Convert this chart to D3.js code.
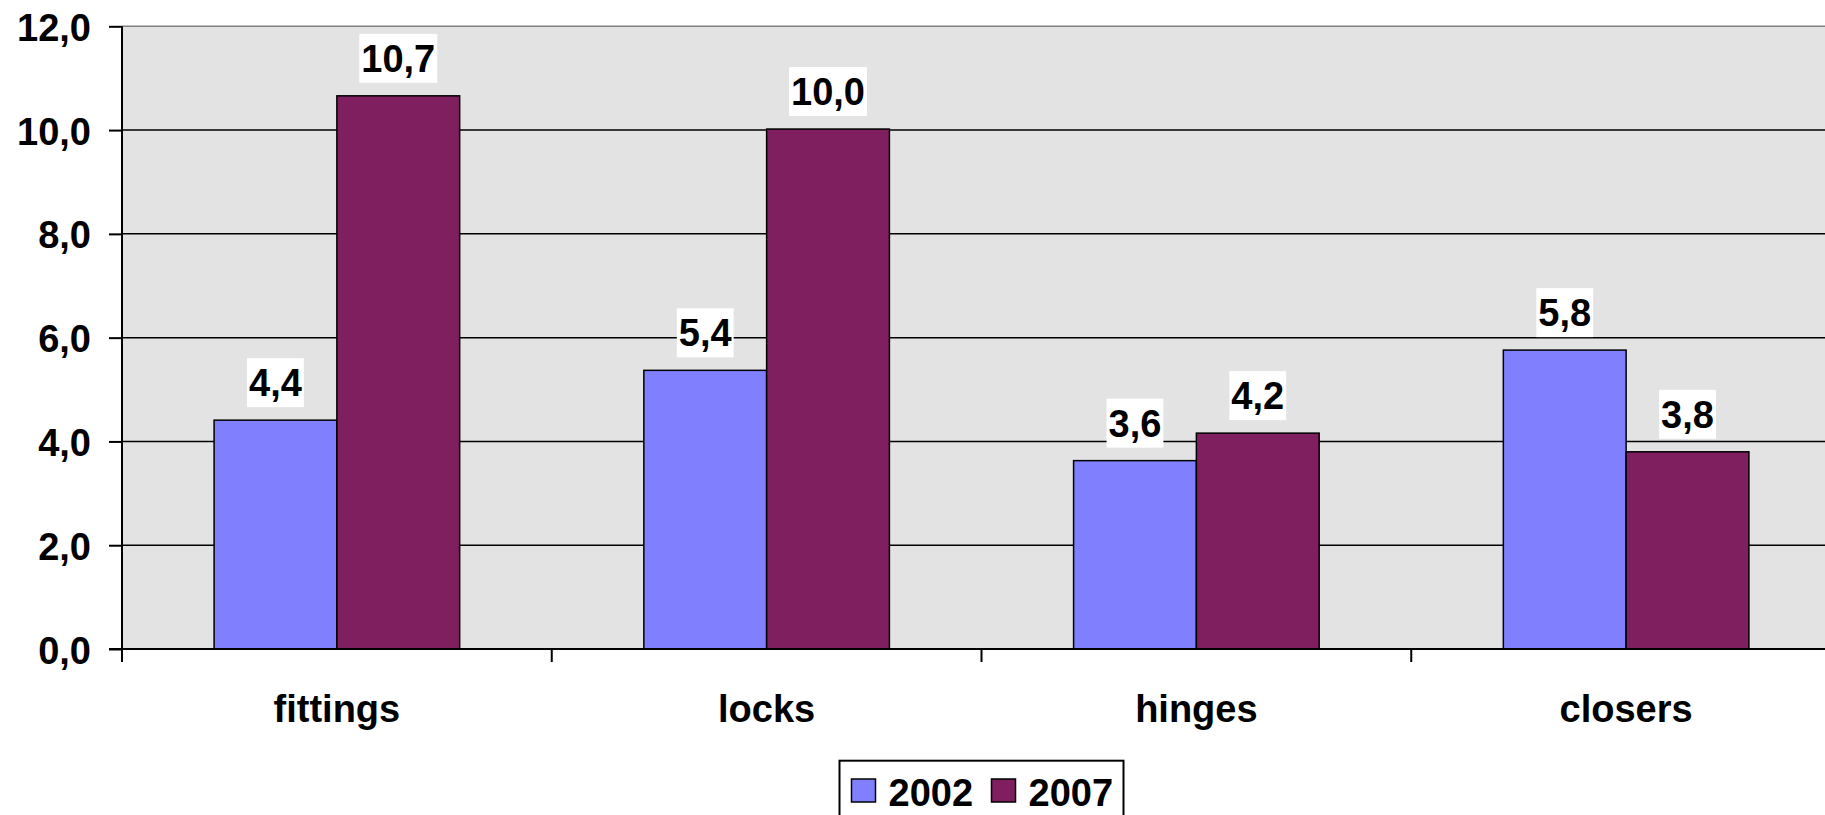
<!DOCTYPE html>
<html>
<head>
<meta charset="utf-8">
<script src="https://cdn.jsdelivr.net/npm/d3@7"></script>
<style>
  html, body { margin: 0; padding: 0; background: #ffffff; overflow: hidden; }
  svg { display: block; font-family: "Liberation Sans", Arial, sans-serif; font-weight: bold; }
</style>
</head>
<body>
<svg id="chart" width="1825" height="815"></svg>
<script>
const categories = ["fittings", "locks", "hinges", "closers"];
const seriesNames = ["2002", "2007"];
const values2002 = [4.41, 5.37, 3.63, 5.76];
const values2007 = [10.66, 10.02, 4.16, 3.80];
const yTickValues = [0, 2, 4, 6, 8, 10, 12];
const seriesColors = ["#8080FF", "#7F1F5F"];

const seriesValues = [values2002, values2007];
const fmt = v => v.toFixed(1).replace(".", ",");

const svg = d3.select("#chart");
const plotLeft = 122, plotRight = 1841, plotTop = 26.3, plotBottom = 649;
const FS = 38;

const x = d3.scaleBand().domain(categories).range([plotLeft, plotRight]).paddingInner(0).paddingOuter(0);
const catW = x.bandwidth();
const x1 = d3.scaleBand().domain(seriesNames).range([catW * 0.75 / 3.5, catW * 2.75 / 3.5]).padding(0);
const y = d3.scaleLinear().domain([0, 12]).range([plotBottom, plotTop]);

// plot area background
svg.append("rect")
  .attr("x", plotLeft).attr("y", plotTop)
  .attr("width", plotRight - plotLeft).attr("height", plotBottom - plotTop)
  .attr("fill", "#E3E3E3");

// gridlines
svg.append("g").selectAll("line")
  .data(yTickValues.filter(v => v > 0 && v < 12))
  .join("line")
  .attr("x1", plotLeft).attr("x2", plotRight)
  .attr("y1", d => y(d)).attr("y2", d => y(d))
  .attr("stroke", "#000").attr("stroke-width", 1.5);

// plot area top border
svg.append("line")
  .attr("x1", plotLeft).attr("x2", plotRight)
  .attr("y1", y(12)).attr("y2", y(12))
  .attr("stroke", "#808080").attr("stroke-width", 1.5);

// bars
const flat = [];
categories.forEach((c, i) => seriesNames.forEach((s, j) => flat.push({ c, s, j, v: seriesValues[j][i] })));

svg.append("g").selectAll("rect")
  .data(flat)
  .join("rect")
  .attr("x", d => x(d.c) + x1(d.s))
  .attr("y", d => y(d.v))
  .attr("width", x1.bandwidth())
  .attr("height", d => y(0) - y(d.v))
  .attr("fill", d => seriesColors[d.j])
  .attr("stroke", "#000").attr("stroke-width", 1.5);

// value labels
const labels = svg.append("g").selectAll("g")
  .data(flat)
  .join("g")
  .attr("transform", d => `translate(${x(d.c) + x1(d.s) + x1.bandwidth() / 2},${y(d.v) - 24})`);
labels.append("text")
  .attr("text-anchor", "middle")
  .attr("font-size", FS)
  .attr("fill", "#000")
  .text(d => fmt(d.v));
labels.each(function () {
  const g = d3.select(this);
  const bb = g.select("text").node().getBBox();
  g.insert("rect", "text")
    .attr("x", bb.x - 2).attr("width", bb.width + 4)
    .attr("y", -38).attr("height", 49)
    .attr("fill", "#fff");
});

// y axis
const yAxis = d3.axisLeft(y).tickValues(yTickValues).tickSize(13).tickPadding(18)
  .tickFormat(d => fmt(d));
const gy = svg.append("g").attr("transform", `translate(${plotLeft},0)`).call(yAxis);
gy.select(".domain").attr("stroke", "#000").attr("stroke-width", 2).attr("d", `M0,${plotTop}V${plotBottom}`);
gy.selectAll(".tick line").attr("stroke", "#000").attr("stroke-width", 2);
gy.selectAll(".tick text")
  .attr("font-size", FS).attr("font-family", "Liberation Sans, Arial, sans-serif")
  .attr("font-weight", "bold").attr("fill", "#000")
  .attr("dy", "0.37em");

// x axis line
svg.append("line")
  .attr("x1", plotLeft - 13).attr("x2", plotRight)
  .attr("y1", plotBottom).attr("y2", plotBottom)
  .attr("stroke", "#000").attr("stroke-width", 2);

// x tick marks at category boundaries
const boundaries = categories.map(c => x(c)).concat([x(categories[categories.length - 1]) + catW]);
svg.append("g").selectAll("line")
  .data(boundaries)
  .join("line")
  .attr("x1", d => d).attr("x2", d => d)
  .attr("y1", plotBottom).attr("y2", plotBottom + 13)
  .attr("stroke", "#000").attr("stroke-width", 2);

// category labels
svg.append("g").selectAll("text")
  .data(categories)
  .join("text")
  .attr("x", d => x(d) + catW / 2)
  .attr("y", 722)
  .attr("text-anchor", "middle")
  .attr("font-size", FS)
  .attr("fill", "#000")
  .text(d => d);

// legend
const legendCenter = (plotLeft + plotRight) / 2;
const legend = svg.append("g");
legend.append("rect")
  .attr("x", legendCenter - 142).attr("y", 760.7)
  .attr("width", 284).attr("height", 80)
  .attr("fill", "#fff").attr("stroke", "#000").attr("stroke-width", 2);
const legendItemX = [legendCenter - 130, legendCenter + 10];
seriesNames.forEach((s, j) => {
  legend.append("rect")
    .attr("x", legendItemX[j]).attr("y", 779)
    .attr("width", 24).attr("height", 23)
    .attr("fill", seriesColors[j]).attr("stroke", "#000").attr("stroke-width", 1.5);
  legend.append("text")
    .attr("x", legendItemX[j] + 37).attr("y", 806)
    .attr("font-size", FS).attr("fill", "#000")
    .text(s);
});
</script>
</body>
</html>
